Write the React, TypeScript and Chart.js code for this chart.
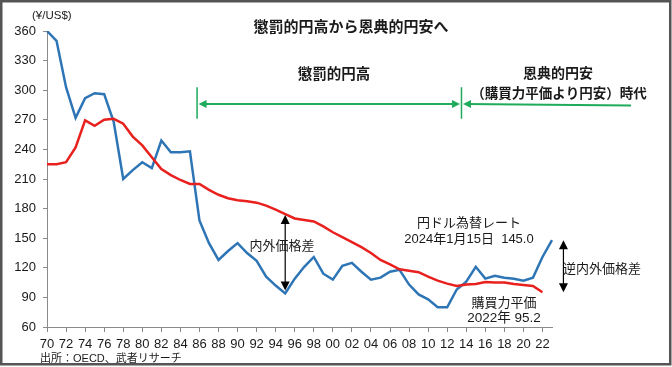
import React, { useEffect, useRef } from "react";
import { Chart, registerables } from "chart.js";

Chart.register(...registerables);

// ---------- data ----------
const years = [
  1970, 1971, 1972, 1973, 1974, 1975, 1976, 1977, 1978, 1979,
  1980, 1981, 1982, 1983, 1984, 1985, 1986, 1987, 1988, 1989,
  1990, 1991, 1992, 1993, 1994, 1995, 1996, 1997, 1998, 1999,
  2000, 2001, 2002, 2003, 2004, 2005, 2006, 2007, 2008, 2009,
  2010, 2011, 2012, 2013, 2014, 2015, 2016, 2017, 2018, 2019,
  2020, 2021, 2022, 2023,
];

// 円ドル為替レート (年平均, ¥/US$)
const exchangeRate = [
  360, 350, 303, 272, 292, 297, 296, 268, 210, 219,
  227, 221, 249, 237, 237, 238, 168, 145, 128, 137,
  145, 135, 127, 111, 102, 94, 109, 121, 131, 114,
  108, 122, 125, 116, 108, 110, 116, 118, 103, 93,
  88, 80, 80, 98, 106, 121, 109, 112, 110, 109,
  107, 110, 131, 148,
];

// 購買力平価 (¥/US$)
const ppp: (number | null)[] = [
  225, 225, 227, 242, 269.5, 264, 270, 271, 266, 253,
  244, 232, 220, 214, 209, 205, 205, 199, 194, 190.5,
  188.5, 187.5, 186, 183, 179, 174.5, 170, 168.5, 167, 162,
  156, 151, 146, 141, 135, 128, 123.5, 118.5, 117, 115.5,
  111, 107, 104, 101.5, 103, 103.5, 105.5, 105, 105, 103.5,
  102.5, 101.5, 95.2, null,
];

const yMin = 60;
const yMax = 360;
const yStep = 30;

const tickLabels = years.map((y) => String(y % 100).padStart(2, "0"));

// ---------- styles ----------
const BLUE = "#2E75B6";
const RED = "#E8201E";
const GREEN = "#1EAB5A";
const AXIS = "#8A8A8A";
const TEXT = "#1a1a1a";
const LATIN = '"Liberation Sans", Arial, "Noto Sans CJK JP", sans-serif';
const JP = '"Noto Sans CJK JP", sans-serif';

function arrowHead(
  ctx: CanvasRenderingContext2D,
  tx: number,
  ty: number,
  dx: number,
  dy: number,
  len: number,
  hw: number,
  color: string
) {
  const px = -dy;
  const py = dx;
  ctx.beginPath();
  ctx.moveTo(tx, ty);
  ctx.lineTo(tx - dx * len + px * hw, ty - dy * len + py * hw);
  ctx.lineTo(tx - dx * len - px * hw, ty - dy * len - py * hw);
  ctx.closePath();
  ctx.fillStyle = color;
  ctx.fill();
}

function text(
  ctx: CanvasRenderingContext2D,
  s: string,
  x: number,
  y: number,
  font: string,
  align: CanvasTextAlign = "center"
) {
  ctx.font = font;
  ctx.fillStyle = TEXT;
  ctx.textAlign = align;
  ctx.textBaseline = "middle";
  ctx.fillText(s, x, y);
}

const decorPlugin = {
  id: "decor",
  beforeDraw(chart: any) {
    const ctx = chart.ctx as CanvasRenderingContext2D;
    ctx.save();
    ctx.fillStyle = "#ffffff";
    ctx.fillRect(0, 0, chart.width, chart.height);
    ctx.restore();
  },
  afterDraw(chart: any) {
    const ctx = chart.ctx as CanvasRenderingContext2D;
    const xs = chart.scales.x;
    const ys = chart.scales.y;
    const X = (i: number) => xs.getPixelForValue(i);
    const Y = (v: number) => ys.getPixelForValue(v);
    ctx.save();

    // unit label
    text(ctx, "(¥/US$)", 32, 16, `11.5px ${LATIN}`, "left");

    // title
    text(ctx, "懲罰的円高から恩典的円安へ", 351, 26, `bold 15px ${JP}`);

    // green period arrows
    const gY = Y(286);
    const gTop = Y(303);
    const gBot = Y(271);
    const g1 = X(15.75);
    const g2 = X(43.5);
    const gEnd = X(61.3);
    ctx.strokeStyle = GREEN;
    ctx.lineWidth = 1.5;
    ctx.beginPath();
    ctx.moveTo(g1, gTop);
    ctx.lineTo(g1, gBot);
    ctx.moveTo(g2, gTop);
    ctx.lineTo(g2, gBot);
    ctx.stroke();
    ctx.lineWidth = 2.2;
    ctx.beginPath();
    ctx.moveTo(g1 + 4, gY);
    ctx.lineTo(g2 - 4, gY);
    ctx.moveTo(g2 + 4, gY);
    ctx.lineTo(gEnd, gY + 1.5);
    ctx.stroke();
    arrowHead(ctx, g1 + 1.5, gY, -1, 0, 8, 4, GREEN);
    arrowHead(ctx, g2 - 1.5, gY, 1, 0, 8, 4, GREEN);
    arrowHead(ctx, g2 + 1.5, gY, -1, 0, 8, 4, GREEN);

    text(ctx, "懲罰的円高", 334, 73, `bold 14.5px ${JP}`);
    text(ctx, "恩典的円安", 558, 73, `bold 14px ${JP}`);
    text(ctx, "（購買力平価より円安）時代", 559, 93, `bold 13.5px ${JP}`);

    // 内外価格差 double arrow (1995)
    const i95 = years.indexOf(1995);
    const ax = X(i95);
    const aTop = Y(ppp[i95] as number) + 1;
    const aBot = Y(exchangeRate[i95]) - 3;
    ctx.strokeStyle = "#000";
    ctx.lineWidth = 1.2;
    ctx.beginPath();
    ctx.moveTo(ax, aTop + 6);
    ctx.lineTo(ax, aBot - 6);
    ctx.stroke();
    arrowHead(ctx, ax, aTop, 0, -1, 9, 4.5, "#000");
    arrowHead(ctx, ax, aBot, 0, 1, 9, 4.5, "#000");
    text(ctx, "内外価格差", 282, 245, `13px ${JP}`);

    // 逆内外価格差 double arrow
    const last = exchangeRate.length - 1;
    const lastPpp = years.indexOf(2022);
    const bx = X(54.2);
    const bTop = Y(exchangeRate[last]);
    const bBot = Y(ppp[lastPpp] as number);
    ctx.beginPath();
    ctx.moveTo(bx, bTop + 6);
    ctx.lineTo(bx, bBot - 6);
    ctx.stroke();
    arrowHead(ctx, bx, bTop, 0, -1, 9, 4.5, "#000");
    arrowHead(ctx, bx, bBot, 0, 1, 9, 4.5, "#000");
    text(ctx, "逆内外価格差", 563, 268, `13px ${JP}`, "left");

    // labels
    text(ctx, "円ドル為替レート", 469, 222, `13px ${JP}`);
    text(ctx, "2024年1月15日  145.0", 469, 239, `13px ${LATIN}`);
    text(ctx, "購買力平価", 504, 302, `13px ${JP}`);
    text(ctx, "2022年 95.2", 504, 318, `13.5px ${LATIN}`);

    // source
    text(ctx, "出所：OECD、武者リサーチ", 40, 359, `11px ${LATIN}`, "left");

    // frame
    ctx.strokeStyle = "#555555";
    ctx.lineWidth = 2.5;
    ctx.strokeRect(1.25, 1.25, chart.width - 3, chart.height - 4);
    ctx.restore();
  },
};

export default function App() {
  const ref = useRef<HTMLCanvasElement | null>(null);

  useEffect(() => {
    if (!ref.current) return;
    const chart = new Chart(ref.current, {
      type: "line",
      data: {
        labels: tickLabels,
        datasets: [
          {
            label: "購買力平価",
            data: ppp,
            borderColor: RED,
            borderWidth: 2.5,
            pointRadius: 0,
            tension: 0,
            spanGaps: false,
          },
          {
            label: "円ドル為替レート",
            data: exchangeRate,
            borderColor: BLUE,
            borderWidth: 2.5,
            pointRadius: 0,
            tension: 0,
          },
        ],
      },
      options: {
        animation: false,
        responsive: false,
        maintainAspectRatio: false,
        devicePixelRatio: 1,
        layout: { padding: { left: 0, right: 120, top: 31, bottom: 0 } },
        plugins: {
          legend: { display: false },
          tooltip: { enabled: false },
          title: { display: false },
        },
        scales: {
          x: {
            type: "category",
            offset: false,
            grid: {
              display: true,
              drawOnChartArea: false,
              drawTicks: true,
              tickLength: 5,
              color: (c: any) => (c.index % 2 === 0 ? AXIS : "rgba(0,0,0,0)"),
              tickColor: (c: any) => (c.index % 2 === 0 ? AXIS : "rgba(0,0,0,0)"),
            },
            border: { display: true, color: AXIS, width: 1 },
            ticks: {
              autoSkip: false,
              maxRotation: 0,
              minRotation: 0,
              padding: 5,
              color: TEXT,
              font: { family: LATIN, size: 13 },
              callback: (_v: any, i: number) => (i % 2 === 0 ? tickLabels[i] : ""),
            },
            afterFit: (s: any) => {
              s.height = 40;
            },
          },
          y: {
            min: yMin,
            max: yMax,
            grid: {
              display: true,
              drawOnChartArea: false,
              drawTicks: true,
              tickLength: 4,
              color: AXIS,
            },
            border: { display: true, color: AXIS, width: 1 },
            ticks: {
              stepSize: yStep,
              padding: 7,
              color: TEXT,
              font: { family: LATIN, size: 13 },
            },
            afterFit: (s: any) => {
              s.width = 47;
            },
          },
        },
      },
      plugins: [decorPlugin],
    } as any);
    return () => chart.destroy();
  }, []);

  return (
    <div style={{ position: "absolute", left: 0, top: 0, width: 672, height: 367 }}>
      <canvas ref={ref} width={672} height={367} style={{ width: 672, height: 367, display: "block" }} />
    </div>
  );
}
